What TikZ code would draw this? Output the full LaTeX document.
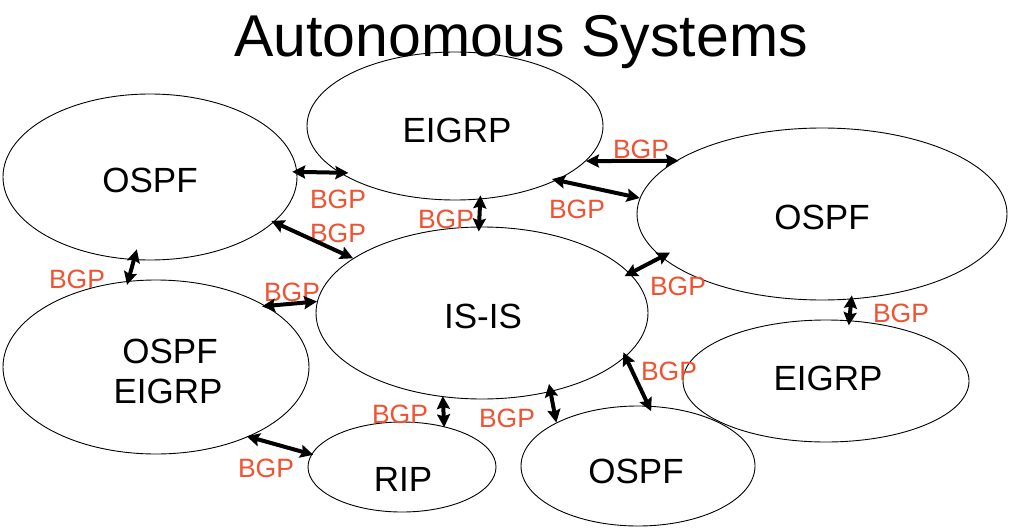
\documentclass[tikz,border=0pt]{standalone}
\usepackage{fontspec}
\setmainfont{Liberation Sans}
\usetikzlibrary{shapes.geometric,arrows.meta}
\definecolor{bgpred}{RGB}{240,82,50}
\begin{document}
\begin{tikzpicture}[x=1pt,y=-1pt,
  as/.style={ellipse,draw=black,line width=0.9pt,inner sep=0pt},
  lbl/.style={anchor=base,font=\fontsize{35}{40}\selectfont},
  bgp/.style={anchor=base,text=bgpred,font=\fontsize{26.5}{28}\selectfont},
  link/.style={line width=4pt,{Stealth[length=13pt,width=13pt,inset=2pt]}-{Stealth[length=13pt,width=13pt,inset=2pt]}},
]
\useasboundingbox (0,0) rectangle (1032,532);
\fill[white] (0,0) rectangle (1032,532);

% title
\node[anchor=base,font=\fontsize{59}{64}\selectfont] (title) at (521,57) {Autonomous Systems};

% autonomous systems
\node[as,minimum width=294pt,minimum height=166pt] (tl) at (150,177) {};
\node[as,minimum width=296pt,minimum height=148pt] (eT) at (455,126) {};
\node[as,minimum width=370pt,minimum height=172pt] (oR) at (822,214) {};
\node[as,minimum width=332pt,minimum height=172pt] (is) at (482,313) {};
\node[as,minimum width=306pt,minimum height=174pt] (oe) at (156,367) {};
\node[as,minimum width=286pt,minimum height=122pt] (eR) at (826,381) {};
\node[as,minimum width=188pt,minimum height=90pt] (rip) at (402,467) {};
\node[as,minimum width=234pt,minimum height=120pt] (oB) at (638,466) {};

% labels
\node[lbl] (tlL) at (150,192) {OSPF};
\node[lbl] (eTL) at (457,142) {EIGRP};
\node[lbl] (oRL) at (822,229) {OSPF};
\node[lbl] (isL) at (483,328) {IS-IS};
\node[lbl] (oeL1) at (170,363) {OSPF};
\node[lbl] (oeL2) at (168,403) {EIGRP};
\node[lbl] (eRL) at (828,390) {EIGRP};
\node[lbl] (ripL) at (403,491) {RIP};
\node[lbl] (oBL) at (636,483) {OSPF};

% BGP labels
\node[bgp] (b1) at (338,208) {BGP};
\node[bgp] (b2) at (338,242) {BGP};
\node[bgp] (b3) at (446,228) {BGP};
\node[bgp] (b4) at (641,158) {BGP};
\node[bgp] (b5) at (577,218) {BGP};
\node[bgp] (b6) at (77,288) {BGP};
\node[bgp] (b7) at (292,301) {BGP};
\node[bgp] (b8) at (678,295) {BGP};
\node[bgp] (b9) at (901,322) {BGP};
\node[bgp] (b10) at (669,380) {BGP};
\node[bgp] (b11) at (507,427) {BGP};
\node[bgp] (b12) at (400,423) {BGP};
\node[bgp] (b13) at (266,477) {BGP};

% BGP links
\draw[link,shorten <=-5pt,shorten >=-9pt] (tl.2) -- (eT.202.3);
\draw[link,shorten <=-3pt] (tl.340.7) -- (is.157.8);
\draw[link,shorten <=-4pt,shorten >=-5pt] (eT.289.9) -- (is.92.8);
\draw[link,shorten >=-3pt] (eT.345.6) -- (oR.160.4);
\draw[link,shorten <=-5pt] (eT.332.7) -- (oR.175.9);
\draw[link,shorten <=-11pt,shorten >=-4pt] (tl.259.6) -- (oe.108.2);
\draw[link,shorten <=-4pt] (oe.29.3) -- (is.176.2);
\draw[link,shorten <=-6pt,shorten >=-10pt] (is.15.9) -- (oR.195.4);
\draw[link,shorten <=-4pt,shorten >=-5pt] (oR.289.5) -- (eR.69.4);
\draw[link,shorten <=-5pt,shorten >=-6pt] (is.343.3) -- (oB.80.5);
\draw[link,shorten <=-8pt] (is.311.1) -- (oB.152);
\draw[link,shorten <=-1pt,shorten >=-1pt] (is.245.1) -- (rip.44.3);
\draw[link,shorten <=-2pt,shorten >=-2pt] (oe.323.9) -- (rip.172.1);
\end{tikzpicture}
\end{document}
